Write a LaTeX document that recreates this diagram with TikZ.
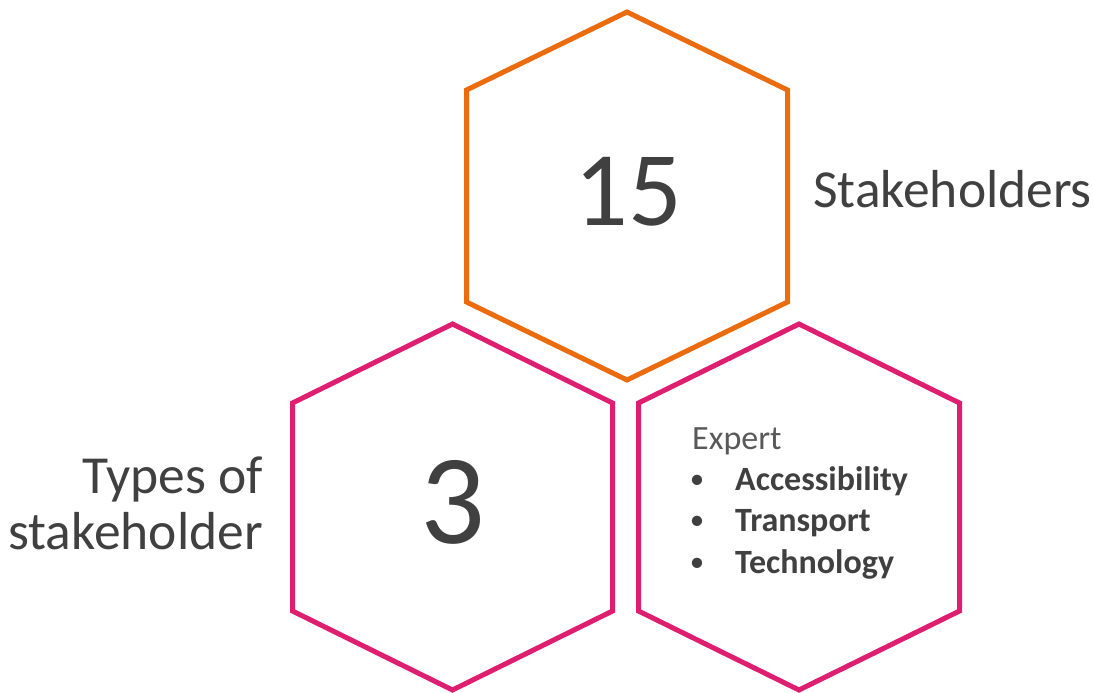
\documentclass[tikz,border=0pt]{standalone}
\usepackage{fontspec}
\setmainfont{Carlito}
\definecolor{hexorange}{RGB}{234,108,14}
\definecolor{hexpink}{RGB}{222,30,112}
\definecolor{textdark}{RGB}{64,64,64}
\definecolor{textgray}{RGB}{89,89,89}
% hexagon around a named centre: half width, half height of the straight sides, tip distance
\newcommand{\hexoutline}[5]{%
  \draw[#5] ($(#1)+(0,-#4)$) -- ($(#1)+(#2,-#3)$) -- ($(#1)+(#2,#3)$) --
    ($(#1)+(0,#4)$) -- ($(#1)+(-#2,#3)$) -- ($(#1)+(-#2,-#3)$) -- cycle;}
\usetikzlibrary{calc}
\begin{document}
\begin{tikzpicture}[x=1pt,y=-1pt,
  hexline/.style={line width=5pt,line join=miter},
  bignum/.style={text=textdark,inner sep=0pt,anchor=base},
  label/.style={text=textdark,inner sep=0pt,font=\fontsize{53.5}{60}\selectfont},
  itemtext/.style={text=textdark,inner sep=0pt,anchor=base west,font=\fontsize{34}{40}\selectfont\bfseries},
  bullet/.style={text=textdark,inner sep=0pt,anchor=base,font=\fontsize{29}{40}\selectfont}]
\useasboundingbox (0,0) rectangle (1093,693);
\fill[white] (0,0) rectangle (1093,693);

% centres of the three hexagons
\coordinate (top) at (627,196);
\coordinate (left) at (452.5,507);
\coordinate (right) at (799,507);

\hexoutline{top}{160.5}{106}{184}{hexline,draw=hexorange}
\hexoutline{left}{160}{104}{183}{hexline,draw=hexpink}
\hexoutline{right}{160.5}{104}{183}{hexline,draw=hexpink}

% numbers
\node[bignum,font=\fontsize{106}{120}\selectfont] (fifteen) at (628,225) {15};
\node[bignum,font=\fontsize{128}{150}\selectfont] (three) at (453,543) {3};

% side labels
\node[label,anchor=base west] (stake) at (813,207) {Stakeholders};
\node[label,anchor=base east] (types1) at (263,493) {Types of};
\node[label,anchor=base east] (types2) at (263,549) {stakeholder};

% expert list
\node[text=textgray,inner sep=0pt,anchor=base west,font=\fontsize{34}{40}\selectfont] (expert) at (692,449) {Expert};
\node[bullet] (b1) at (697,488) {\textbullet};
\node[bullet] (b2) at (697,529.5) {\textbullet};
\node[bullet] (b3) at (697,571) {\textbullet};
\node[itemtext] (access) at (735,490) {Accessibility};
\node[itemtext] (transport) at (735,531.5) {Transport};
\node[itemtext] (tech) at (735,573) {Technology};
\end{tikzpicture}
\end{document}
